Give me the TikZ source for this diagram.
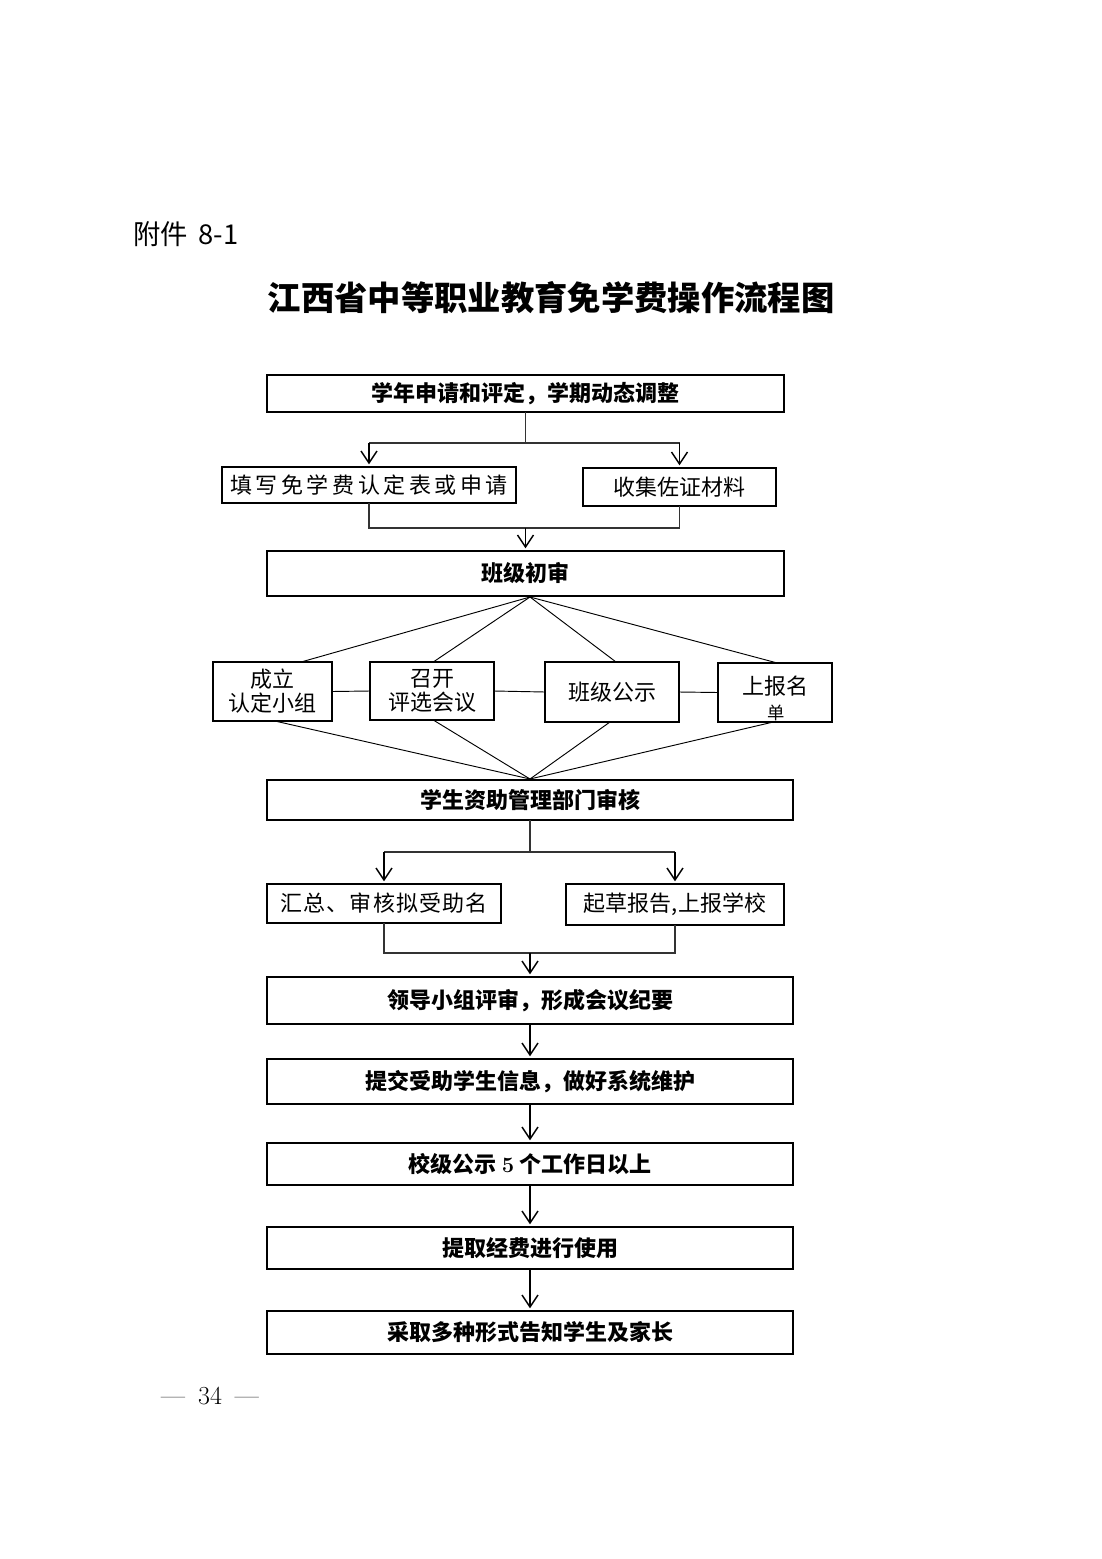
\documentclass[tikz,border=0pt]{standalone}
\usepackage{fontspec}
\newfontfamily\cjk{Noto Sans CJK SC}
\usetikzlibrary{arrows.meta,calc}
\newcommand\mkbox[7]{\node[#1,minimum width={(#4-#2)*0.75pt},minimum height={(#5-#3)*0.75pt}] (#6) at ({(#2+#4)/2},{(#3+#5)/2}) {#7};}
\begin{document}
\begin{tikzpicture}[x=0.75pt,y=-0.75pt,
  box/.style={draw,line width=1.3pt,inner sep=0pt,outer sep=0pt,align=center,font=\cjk\fontsize{16.5}{18}\selectfont},
  boldbox/.style={box,font=\cjk\bfseries\fontsize{16.5}{18}\selectfont},
  conn/.style={line width=0.8pt,draw=black!80},
  arr/.style={line width=0.9pt,draw=black,-{Straight Barb[length=9pt,width=12pt,line width=1.1pt]}},
  fan/.style={line width=0.7pt}]
\fill[white] (0,0) rectangle (1102,1559);
\useasboundingbox (0,0) rectangle (1102,1559);

% header
\node[anchor=west,inner sep=0pt,font=\cjk\fontsize{20.5}{24}\selectfont] (att) at (133,234) {附件\ \,8-1};
\node[inner sep=0pt,font=\cjk\bfseries\fontsize{25}{30}\selectfont] (title) at (551,298) {江西省中等职业教育免学费操作流程图};

% boxes
\mkbox{boldbox}{267}{375}{784}{412}{b1}{学年申请和评定，学期动态调整}
\mkbox{box}{222}{467}{516}{503}{b2a}{\addfontfeature{LetterSpace=16}填写免学费认定表或申请}
\mkbox{box}{583}{468}{776}{506}{b2b}{收集佐证材料}
\mkbox{boldbox}{267}{551}{784}{596}{b3}{班级初审}
\mkbox{box}{213}{662}{332}{721}{f1}{\raisebox{0pt}[0pt][0pt]{}成立\\认定小组}
\mkbox{box}{370}{662}{494}{720}{f2}{召开\\评选会议}
\mkbox{box}{545}{662}{679}{722}{f3}{班级公示}
\mkbox{box}{718}{663}{832}{722}{f4}{}
\node[inner sep=0pt,font=\cjk\fontsize{16.5}{18}\selectfont] (f4t) at (775,686) {上报名};
\begin{scope}
  \clip (f4.south west) rectangle (f4.north east);
  \node[inner sep=0pt,font=\cjk\fontsize{13}{14}\selectfont] (f4u) at (776,713) {单};
\end{scope}
\mkbox{boldbox}{267}{780}{793}{820}{b5}{学生资助管理部门审核}
\mkbox{box}{267}{884}{501}{923}{b6a}{\addfontfeature{LetterSpace=5}汇总、审核拟受助名}
\mkbox{box}{566}{884}{784}{925}{b6b}{起草报告,上报学校}
\mkbox{boldbox}{267}{977}{793}{1024}{b7}{领导小组评审，形成会议纪要}
\mkbox{boldbox}{267}{1059}{793}{1104}{b8}{提交受助学生信息，做好系统维护}
\mkbox{boldbox}{267}{1143}{793}{1185}{b9}{校级公示 {\rmfamily\bfseries 5} 个工作日以上}
\mkbox{boldbox}{267}{1227}{793}{1269}{b10}{提取经费进行使用}
\mkbox{boldbox}{267}{1311}{793}{1354}{b11}{采取多种形式告知学生及家长}

% split b1
\coordinate (s1) at (525.5,443);
\draw[conn] (b1.south) -- (s1);
\draw[conn] (s1) -- (b2a.north |- s1);
\draw[conn] (s1) -- (b2b.north |- s1);
\draw[arr] (b2a.north |- s1) -- ([yshift=2]b2a.north);
\draw[arr] (b2b.north |- s1) -- ([yshift=2]b2b.north);
% merge to b3
\coordinate (m1) at (525.5,528);
\draw[conn] (b2a.south) -- (b2a.south |- m1) -- (b2b.south |- m1) -- (b2b.south);
\draw[arr] (m1) -- ([yshift=2]b3.north);

% fan
\coordinate (ap) at (530,597);
\coordinate (bp) at (530,779);
\draw[fan] (ap) -- ($(f1.north west)!0.74!(f1.north east)$);
\draw[fan] (ap) -- ($(f2.north west)!0.51!(f2.north east)$);
\draw[fan] (ap) -- ($(f3.north west)!0.53!(f3.north east)$);
\draw[fan] (ap) -- ($(f4.north west)!0.52!(f4.north east)$);
\draw[fan] (bp) -- ($(f1.south west)!0.52!(f1.south east)$);
\draw[fan] (bp) -- ($(f2.south west)!0.51!(f2.south east)$);
\draw[fan] (bp) -- ($(f3.south west)!0.485!(f3.south east)$);
\draw[fan] (bp) -- ($(f4.south west)!0.485!(f4.south east)$);
\draw[fan] (f1.east) -- (f2.west);
\draw[fan] (f2.east) -- (f3.west);
\draw[fan] (f3.east) -- (f4.west);

% split b5
\coordinate (s2) at (530,852);
\draw[conn] (b5.south) -- (s2);
\draw[conn] (b6a.north |- s2) -- (b6b.north |- s2);
\draw[arr] (b6a.north |- s2) -- ([yshift=2]b6a.north);
\draw[arr] (b6b.north |- s2) -- ([yshift=2]b6b.north);
% merge to b7
\coordinate (m2) at (530,953);
\draw[conn] (b6a.south) -- (b6a.south |- m2) -- (b6b.south |- m2) -- (b6b.south);
\draw[arr] (m2) -- ([yshift=2]b7.north);

% chain
\draw[arr] (b7.south) -- ([yshift=2]b8.north);
\draw[arr] (b8.south) -- ([yshift=2]b9.north);
\draw[arr] (b9.south) -- ([yshift=2]b10.north);
\draw[arr] (b10.south) -- ([yshift=2]b11.north);

% page number
\node[inner sep=0pt,font=\fontsize{19.5}{22}\selectfont] (pg) at (210,1396) {---\enspace 34\enspace ---};
\end{tikzpicture}
\end{document}
